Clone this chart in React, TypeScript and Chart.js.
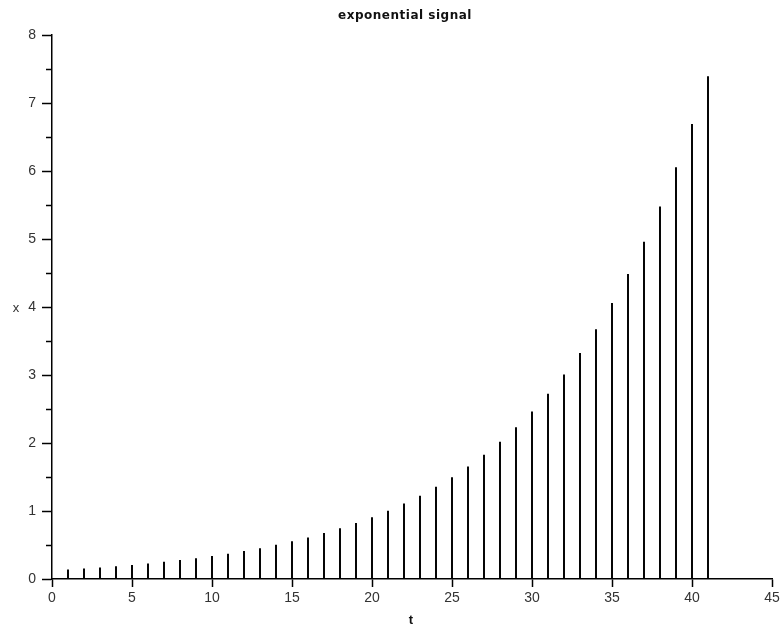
import React, { useEffect, useRef } from "react";
import { Chart, registerables } from "chart.js";

Chart.register(...registerables);

const T: number[] = [
  1, 2, 3, 4, 5, 6, 7, 8, 9, 10, 11, 12, 13, 14, 15, 16, 17, 18, 19, 20, 21,
  22, 23, 24, 25, 26, 27, 28, 29, 30, 31, 32, 33, 34, 35, 36, 37, 38, 39, 40, 41,
];
const X: number[] = [
  0.135, 0.15, 0.165, 0.183, 0.202, 0.223, 0.247, 0.273, 0.301, 0.333, 0.368,
  0.407, 0.449, 0.497, 0.549, 0.607, 0.67, 0.741, 0.819, 0.905, 1.0, 1.105,
  1.221, 1.35, 1.492, 1.649, 1.822, 2.014, 2.226, 2.46, 2.718, 3.004, 3.32,
  3.669, 4.055, 4.482, 4.953, 5.474, 6.05, 6.686, 7.389,
];
const MINOR_Y: number[] = [0.5, 1.5, 2.5, 3.5, 4.5, 5.5, 6.5, 7.5];
const TITLE = "exponential signal";
const X_LABEL = "t";
const Y_LABEL = "x";

const FONT = "'Liberation Sans', Arial, sans-serif";

export default function App() {
  const ref = useRef<HTMLCanvasElement | null>(null);
  useEffect(() => {
    if (!ref.current) return;
    const textPlugin = {
      id: "texts",
      afterDraw(chart: any) {
        const ctx = chart.ctx;
        const ys = chart.scales.y;
        const left = chart.chartArea.left;
        ctx.save();
        ctx.strokeStyle = "#000";
        ctx.lineWidth = 1.5;
        MINOR_Y.forEach((v) => {
          const py = Math.round(ys.getPixelForValue(v)) + 0.5;
          ctx.beginPath();
          ctx.moveTo(left - 6, py);
          ctx.lineTo(left, py);
          ctx.stroke();
        });
        ctx.fillStyle = "#111";
        ctx.textAlign = "center";
        ctx.textBaseline = "middle";
        ctx.font = "bold 12px 'DejaVu Sans', sans-serif";
        try {
          (ctx as any).letterSpacing = "0.5px";
        } catch (e) {}
        ctx.fillText(TITLE, 405, 16);
        try {
          (ctx as any).letterSpacing = "0px";
        } catch (e) {}
        ctx.font = "bold 13px " + FONT;
        ctx.fillText(X_LABEL, 411, 620);
        ctx.font = "13px " + FONT;
        ctx.fillStyle = "#333";
        ctx.fillText(Y_LABEL, 16, 308);
        ctx.restore();
      },
    };
    const chart = new Chart(ref.current, {
      type: "bar",
      data: {
        datasets: [
          {
            data: T.map((t, i) => ({ x: t, y: X[i] })),
            backgroundColor: "#000",
            borderWidth: 0,
            barThickness: 1.3,
          } as any,
        ],
      },
      options: {
        responsive: false,
        animation: false,
        layout: { padding: { top: 35, right: 11, left: 0, bottom: 0 } },
        plugins: {
          legend: { display: false },
          tooltip: { enabled: false },
          title: { display: false },
        },
        scales: {
          x: {
            type: "linear",
            min: 0,
            max: 45,
            offset: false,
            ticks: {
              stepSize: 5,
              color: "#333",
              font: { family: FONT, size: 14 },
              padding: 3,
              maxRotation: 0,
            },
            grid: {
              offset: false,
              drawOnChartArea: false,
              drawTicks: true,
              tickLength: 8,
              color: "#000",
              tickWidth: 1.5,
            },
            border: { display: true, color: "#000", width: 1.5 },
            afterFit(scale: any) {
              scale.height = 49;
            },
          },
          y: {
            type: "linear",
            min: 0,
            max: 8,
            ticks: {
              stepSize: 1,
              color: "#333",
              font: { family: FONT, size: 14 },
              padding: 6,
            },
            grid: {
              drawOnChartArea: false,
              drawTicks: true,
              tickLength: 10,
              color: "#000",
              tickWidth: 1.5,
            },
            border: { display: true, color: "#000", width: 1.5 },
            afterFit(scale: any) {
              scale.width = 52;
            },
          },
        },
      },
      plugins: [textPlugin],
    } as any);
    return () => chart.destroy();
  }, []);
  return (
    <div
      style={{
        position: "fixed",
        left: 0,
        top: 0,
        width: 783,
        height: 628,
        background: "#fff",
      }}
    >
      <canvas ref={ref} width={783} height={628} />
    </div>
  );
}
